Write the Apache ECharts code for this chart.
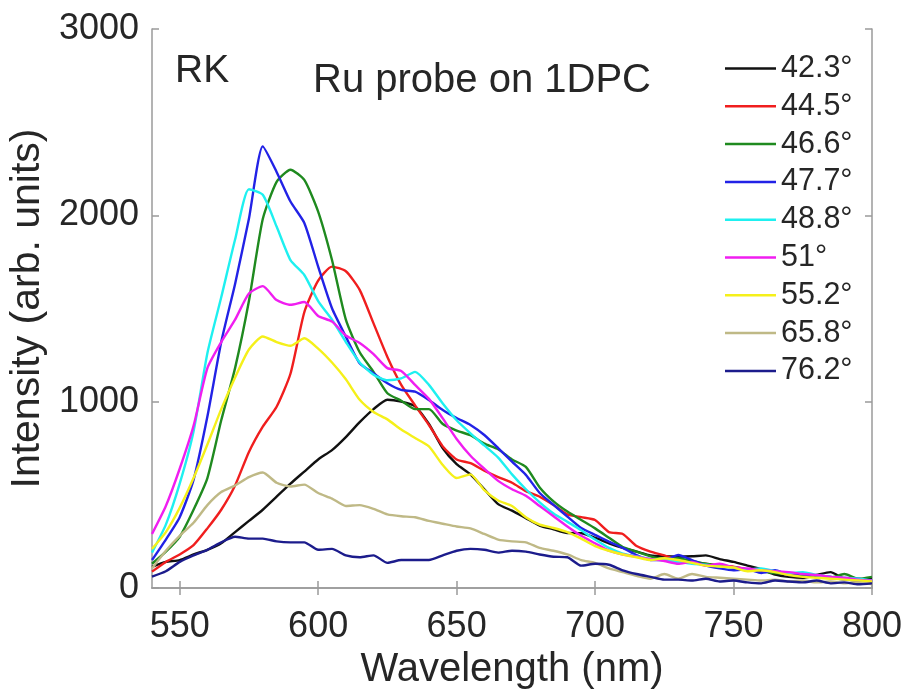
<!DOCTYPE html>
<html>
<head>
<meta charset="utf-8">
<script src="https://cdn.jsdelivr.net/npm/echarts@6/dist/echarts.min.js"></script>
<style>html,body{margin:0;padding:0;background:#fff}#c{width:906px;height:694px}</style>
</head>
<body>
<div id="c"></div>
<script>
const wavelengths = [540,545,550,555,560,565,570,575,580,585,590,595,600,605,610,615,620,625,630,635,640,645,650,655,660,665,670,675,680,685,690,695,700,705,710,715,720,725,730,735,740,745,750,755,760,765,770,775,780,785,790,795,800];
const seriesNames = ['42.3°','44.5°','46.6°','47.7°','48.8°','51°','55.2°','65.8°','76.2°'];
const xTicks = [550,600,650,700,750,800];

const s423 = [114,140,150,180,205,240,300,360,420,490,560,625,690,740,810,890,960,1010,1000,975,880,750,665,610,530,450,415,375,335,315,295,294,270,240,215,195,175,170,168,170,175,155,140,120,100,72,60,55,70,85,50,40,50];
const s445 = [88,140,180,230,320,420,550,730,866,973,1150,1480,1650,1725,1700,1600,1420,1240,1090,980,875,760,690,670,630,595,565,520,490,445,395,380,365,300,290,225,195,175,150,140,130,120,115,100,95,85,80,75,65,60,50,40,35];
const s466 = [130,195,275,420,590,900,1180,1540,1980,2180,2245,2190,2020,1760,1440,1265,1160,1045,1005,960,960,880,845,820,775,745,690,650,540,465,410,365,320,270,220,195,170,155,160,145,130,120,110,100,90,80,75,70,60,55,75,50,60];
const s477 = [150,260,380,580,920,1320,1632,1982,2370,2233,2074,1959,1725,1501,1349,1206,1152,1099,1063,1054,1009,955,912,875,821,751,678,607,510,446,383,322,285,249,215,177,150,150,177,150,120,105,95,100,80,95,70,75,65,60,45,50,35];
const s488 = [190,340,560,840,1260,1560,1870,2140,2110,1940,1760,1680,1540,1440,1320,1210,1145,1115,1125,1160,1090,990,900,830,765,700,610,530,460,400,355,310,260,215,185,170,155,150,140,130,125,115,110,100,105,90,80,85,70,60,55,50,40];
const s51 = [290,440,640,870,1180,1320,1440,1580,1620,1545,1520,1535,1460,1430,1355,1315,1255,1180,1165,1090,1015,910,800,710,640,575,530,495,440,385,330,280,240,200,180,168,155,145,130,140,120,130,110,105,95,90,85,75,70,60,55,45,40];
const s552 = [210,300,430,590,770,960,1130,1280,1350,1320,1300,1340,1285,1210,1120,1010,945,905,850,805,760,660,590,610,525,470,440,380,340,322,300,265,225,200,180,165,150,160,150,135,120,115,110,90,95,85,70,60,55,50,45,40,35];
const s658 = [105,200,280,350,445,515,550,595,620,565,545,555,510,480,440,445,425,395,385,380,360,345,330,320,290,260,250,245,215,200,180,150,135,105,85,65,50,75,50,75,60,55,50,45,40,45,35,40,30,35,25,30,20];
const s762 = [61,90,140,175,205,245,275,265,265,250,245,245,205,210,175,165,175,135,150,150,150,175,200,210,205,190,200,195,180,168,165,120,130,125,95,75,60,45,45,40,50,35,40,30,25,40,35,30,40,25,30,20,25];

const seriesValues = [s423,s445,s466,s477,s488,s51,s552,s658,s762];
const colors = ['#111111','#f01e1e','#1f8a1f','#2222e6','#1ef0f0','#f01ef0','#f5f01a','#bfb986','#1c1c8c'];

const chart = echarts.init(document.getElementById('c'), null, {renderer:'canvas'});
const FONT = 'Liberation Sans, Arial, Helvetica, sans-serif';
const axisGray = '#9a9a9a';
const txt = '#262626';

const baseX = {
  type:'value', min:540, max:800,
  splitLine:{show:false},
  axisLine:{show:true, lineStyle:{color:axisGray, width:1.5}},
  axisTick:{show:true, inside:true, length:7, customValues:xTicks, lineStyle:{color:axisGray, width:1.5}}
};
const baseY = {
  type:'value', min:0, max:3000, interval:1000,
  splitLine:{show:false},
  axisLine:{show:true, lineStyle:{color:axisGray, width:1.5}},
  axisTick:{show:true, inside:true, length:7, lineStyle:{color:axisGray, width:1.5}}
};

chart.setOption({
  backgroundColor:'#fff',
  animation:false,
  grid:{left:152, right:34, top:29, bottom:106, containLabel:false, outerBoundsMode:'none'},
  xAxis:[
    Object.assign({}, baseX, {
      position:'bottom',
      axisLabel:{customValues:xTicks, fontSize:36, color:txt, fontFamily:FONT, margin:21, formatter:v=>String(v)},
      name:'Wavelength (nm)', nameLocation:'middle', nameGap:45,
      nameTextStyle:{fontSize:40, color:txt, fontFamily:FONT}
    }),
    Object.assign({}, baseX, {position:'top', axisLabel:{show:false}})
  ],
  yAxis:[
    Object.assign({}, baseY, {
      position:'left',
      axisLabel:{fontSize:36, color:txt, fontFamily:FONT, margin:13, formatter:v=>String(v)},
      name:'Intensity (arb. units)', nameLocation:'middle', nameGap:98, nameRotate:90,
      nameTextStyle:{fontSize:41, color:txt, fontFamily:FONT}
    }),
    Object.assign({}, baseY, {position:'right', axisLabel:{show:false}})
  ],
  legend:{
    orient:'vertical', left:720, top:48,
    icon:'rect', itemWidth:51, itemHeight:2.5, itemGap:6.8,
    textStyle:{fontSize:30.5, color:txt, fontFamily:FONT, lineHeight:30},
    data:seriesNames
  },
  graphic:[
    {type:'text', left:175, top:52, style:{text:'RK', fontSize:39, fill:txt, fontFamily:FONT}},
    {type:'text', left:313, top:61, style:{text:'Ru probe on 1DPC', fontSize:40, fill:txt, fontFamily:FONT}}
  ],
  series: seriesNames.map((n,i)=>({
    name:n, type:'line', xAxisIndex:0, yAxisIndex:0,
    symbol:'none', smooth:0.2,
    lineStyle:{color:colors[i], width:2.4},
    itemStyle:{color:colors[i]},
    data: wavelengths.map((w,k)=>[w, seriesValues[i][k]])
  }))
});
</script>
</body>
</html>
